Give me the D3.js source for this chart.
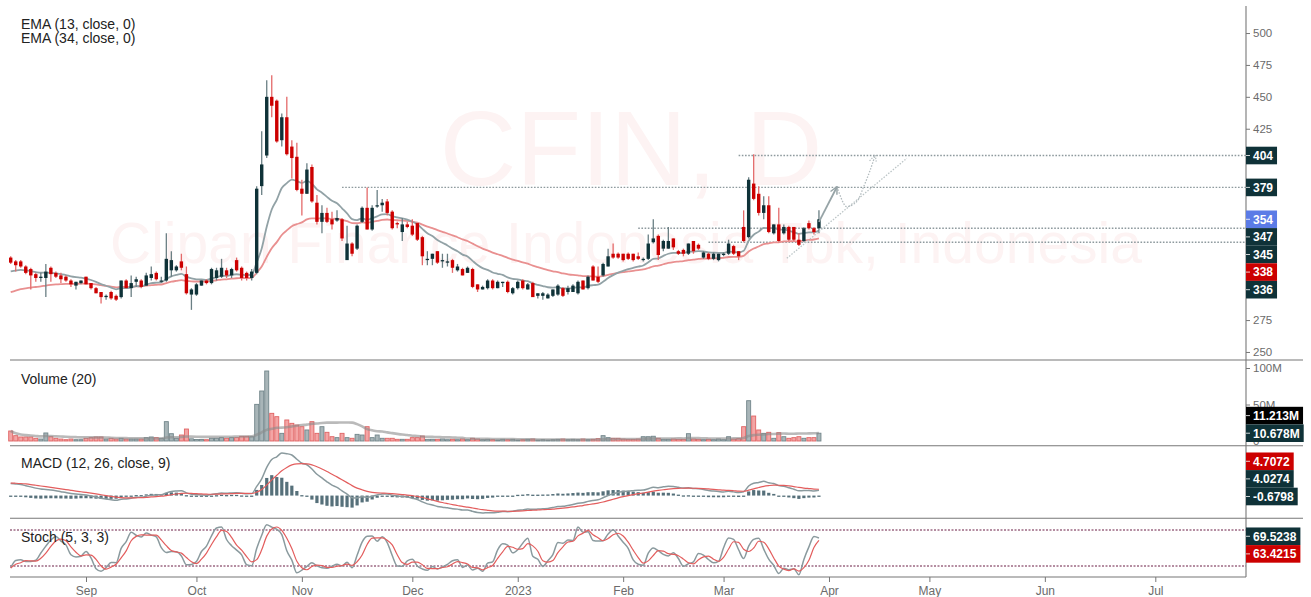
<!DOCTYPE html>
<html lang="en">
<head>
<meta charset="UTF-8">
<title>CFIN, D</title>
<style>
    body { margin: 0; background: #fff; }
    svg { display: block; font-family: "Liberation Sans", Arial, sans-serif; }
</style>
</head>
<body>
<svg id="chart" width="1311" height="597"></svg>
<script src="https://cdn.jsdelivr.net/npm/d3@7/dist/d3.min.js"></script>
<script>
// daily bars from 2022-08-10 to 2023-03-30 (IDX trading days)
const opens = [
    324,321,321,317,315,311,308,308,316,312,
    310,309,306,302,304,309,304,300,297,293,
    297,294,293,306,300,305,306,302,308,312,
    305,306,314,314,321,311,295,295,302,306,
    304,308,309,314,310,322,316,312,308,312,
    380,404,450,447,416,434,411,403,378,374,
    395,367,352,359,354,353,354,322,335,331,
    352,363,346,364,365,368,360,351,344,350,
    349,351,340,322,323,329,321,320,322,314,
    315,312,315,303,299,300,306,300,304,305,
    296,300,306,299,304,294,294,292,294,295,
    300,297,297,296,306,300,317,309,310,317,
    327,327,327,327,327,325,322,323,336,341,
    331,331,339,329,330,327,337,334,324,327,
    323,322,326,327,333,329,348,340,382,374,
    359,365,343,350,343,348,348,338,337,351,
    347,347];
const highs = [
    325,322,322,318,316,312,312,319,317,313,
    312,310,307,305,306,309,304,301,297,295,
    298,295,306,307,310,309,307,312,317,313,
    309,343,329,318,327,317,300,304,306,307,
    316,316,323,316,316,324,317,313,315,380,
    423,463,467,448,437,450,416,414,385,398,
    397,373,365,363,360,361,355,349,336,350,
    364,379,365,377,370,370,361,352,355,352,
    354,351,341,329,327,329,327,327,323,319,
    316,317,316,303,302,307,307,306,305,306,
    301,306,307,304,305,296,297,296,299,303,
    301,302,303,306,306,310,318,317,320,331,
    335,328,327,328,327,328,324,342,354,342,
    338,348,339,330,331,335,337,335,329,328,
    328,327,328,338,334,329,361,387,405,380,
    372,372,350,363,350,349,348,343,348,353,
    348,361];
const lows = [
    319,313,316,311,299,305,305,293,305,308,
    304,305,301,299,303,303,299,296,288,291,
    291,290,292,300,293,301,300,302,306,306,
    304,305,309,313,314,295,283,294,302,303,
    303,306,308,308,308,313,306,306,306,311,
    373,402,434,414,411,404,386,376,357,374,
    367,350,343,351,346,352,337,322,325,330,
    351,346,345,363,360,357,346,347,337,347,
    341,337,318,318,318,319,316,317,312,313,
    310,312,300,297,299,299,299,300,301,296,
    295,299,299,299,293,292,291,292,293,294,
    293,295,297,295,299,299,306,304,309,317,
    323,323,321,322,321,322,321,322,335,322,
    329,331,330,326,325,326,327,330,323,322,
    322,321,325,326,326,322,336,339,369,357,
    354,343,342,336,342,337,337,333,336,346,
    342,343];
const closes = [
    320,318,317,312,310,308,309,313,311,309,
    307,306,303,305,306,303,300,296,293,294,
    292,291,306,300,304,307,301,310,311,307,
    306,323,322,317,316,296,299,303,306,304,
    315,314,316,310,315,314,308,308,313,378,
    397,450,443,415,434,405,402,377,374,393,
    368,352,359,352,350,355,339,335,327,349,
    363,346,363,365,367,359,347,350,350,348,
    342,338,325,323,327,320,322,321,316,317,
    310,316,301,299,301,306,300,305,305,297,
    300,305,300,303,293,296,296,295,299,302,
    294,300,302,305,299,309,306,305,319,325,
    324,324,322,323,322,323,323,335,339,326,
    337,337,332,327,327,335,329,331,328,323,
    327,327,327,335,327,325,337,385,370,359,
    365,344,350,337,348,338,338,334,347,347,
    344,354];
// volume in millions of shares
const volumes = [
    13.7,7.3,5.5,5.5,5.5,3.7,2.7,11,5.9,3.7,
    2.7,1.8,2.7,1.8,1.8,3.7,4.6,5.5,5.5,2.7,
    3.7,2.7,3.7,2.7,2.7,2.7,2.7,4.6,5.5,4.6,
    3.7,26.5,10,3.7,8.2,16.4,3,2,2,1.8,
    3.7,3.7,4.6,3.7,4.6,4.6,6.4,6.4,5.9,50.2,
    68.5,95.9,37.9,33.3,10.5,28.8,24.2,21.9,19.6,15.1,
    26.5,10.5,19.6,11.9,5.9,4.6,10.5,4.6,3.7,9.1,
    8.2,19.6,4.6,8.2,3.7,3.7,3.7,2.3,2.3,2.3,
    4.6,4.6,6.8,2.3,2.3,2.3,2.7,1.8,2.3,1.8,
    2.7,1.8,3.7,2.7,1.8,2.3,1.8,1.4,2.3,1.8,
    2.3,1.4,1.8,2.3,2.7,1.4,1.8,1.4,1.8,2.3,
    2.7,1.8,2.3,1.8,2.7,1.8,2.3,3.2,7.3,4.6,
    3.7,3.7,2.7,2.3,2.3,2.7,5.9,5.9,6.5,3.7,
    2.3,2.3,2.7,2.3,2.3,10,2.7,2.3,1.8,2.3,
    1.8,2.7,1.8,5.9,2.7,3.2,19.6,55.2,34.2,15.1,
    10.5,11.9,3.7,11.4,5.9,3.7,4.6,5.9,3.7,4.6,
    4.6,10.678];

const holidays = ["2022-08-17", "2022-12-26", "2023-01-23", "2023-03-22", "2023-03-23"];
const monthStarts = ["2022-09-01", "2022-10-01", "2022-11-01", "2022-12-01", "2023-01-01", "2023-02-01",
    "2023-03-01", "2023-04-01", "2023-05-01", "2023-06-01", "2023-07-01"];
const monthLabels = ["Sep", "Oct", "Nov", "Dec", "2023", "Feb", "Mar", "Apr", "May", "Jun", "Jul"];
const priceTicks = [250, 275, 300, 325, 350, 375, 400, 425, 450, 475, 500];
const volumeTicks = [0, 50, 100];

// horizontal levels drawn on the chart
const levelPrices = [404, 379, 347, 336];
const levelStarts = ["2023-03-06", "2022-11-11", "2023-02-06", "2023-02-24"];

// indicator values just before the first bar
const emaSeeds = [312, 295.5];          // EMA13, EMA34
const macdSeeds = [312.5, 303.6, 9.3];  // EMA12, EMA26, signal

// projection sketch: [bar index, price]
const arrowLine = [[161, 352], [164.6, 379.5]];
const arrowPath = [[164.6, 379.5], [165.9, 366.5], [166.5, 363.9], [168.5, 367.8], [169.9, 379.5], [171.2, 392.5], [172.2, 404.4]];
const trendLine = [[154.6, 323.4], [178.5, 401.8]];

// last value tags, top to bottom
const priceTagValues = [404, 379, 354, 347, 345, 338, 336];
const priceTagKinds = ["level", "level", "last", "level", "ema13", "ema34", "level"];
const volTagTexts = ["11.213M", "10.678M"];
const volTagValues = [11.213, 10.678];
const macdTagTexts = ["4.7072", "4.0274", "-0.6798"];
const macdTagValues = [4.7072, 4.0274, -0.6798];
const stochTagTexts = ["69.5238", "63.4215"];
const stochTagValues = [69.5238, 63.4215];

// ---------- calendar ----------
const tradingDays = [];
for (let d = new Date(Date.UTC(2022, 7, 10)); d <= new Date(Date.UTC(2023, 6, 31)); d.setUTCDate(d.getUTCDate() + 1)) {
    const wd = d.getUTCDay();
    const iso = d.toISOString().slice(0, 10);
    if (wd === 0 || wd === 6 || holidays.indexOf(iso) >= 0) continue;
    tradingDays.push(iso);
}
function dayIndex(iso) {
    return tradingDays.findIndex(t => t >= iso);
}

// ---------- indicators ----------
function ema(values, period, seed) {
    const k = 2 / (period + 1);
    let prev = seed;
    return values.map(v => (prev = prev + k * (v - prev)));
}
function sma(values, n) {
    return values.map((_, i) => d3.mean(values.slice(Math.max(0, i - n + 1), i + 1)));
}
const ema13 = ema(closes, 13, emaSeeds[0]);
const ema34 = ema(closes, 34, emaSeeds[1]);
const ema12 = ema(closes, 12, macdSeeds[0]);
const ema26 = ema(closes, 26, macdSeeds[1]);
const macd = ema12.map((v, i) => v - ema26[i]);
const signal = ema(macd, 9, macdSeeds[2]);
const hist = macd.map((v, i) => v - signal[i]);
const volMa = sma(volumes, 20);
const rawK = closes.map((c, i) => {
    const lo = d3.min(lows.slice(Math.max(0, i - 4), i + 1));
    const hi = d3.max(highs.slice(Math.max(0, i - 4), i + 1));
    return hi === lo ? 50 : (c - lo) / (hi - lo) * 100;
});
const stochK = sma(rawK, 3);
const stochD = sma(stochK, 3);

// ---------- layout ----------
const svg = d3.select("#chart");
const plotL = 10, plotR = 1246;
const pane = {price: [6, 360], vol: [360, 445.7], macd: [445.7, 518.3], stoch: [518.3, 577]};
const TAG_H = 17.6;

const x = d3.scaleLinear().domain([0, 228]).range([10.7, 1155.3]);
const yPrice = d3.scaleLinear().domain([243.7, 521.2]).range([360, 6]);
const yVol = d3.scaleLinear().domain([0, 100]).range([441, 368]);
const macdExt = d3.extent(macd.concat(signal, hist));
const yMacd = d3.scaleLinear().domain(macdExt).range([513, 453]);
const yStoch = d3.scaleLinear().domain([0, 100]).range([578, 518]);

const UP = "#0f3238", DOWN = "#cc0000";
const bars = opens.map((o, i) => ({i: i, o: o, h: highs[i], l: lows[i], c: closes[i], v: volumes[i]}));

const defs = svg.append("defs");
Object.keys(pane).forEach(k => {
    defs.append("clipPath").attr("id", "clip-" + k)
        .append("rect").attr("x", 8).attr("y", pane[k][0])
        .attr("width", plotR - 8).attr("height", pane[k][1] - pane[k][0]);
});
defs.append("marker").attr("id", "arrowSolid").attr("viewBox", "0 0 10 10")
    .attr("refX", 9).attr("refY", 5).attr("markerWidth", 9).attr("markerHeight", 9)
    .attr("markerUnits", "userSpaceOnUse").attr("orient", "auto")
    .append("path").attr("d", "M1,1 L9,5 L1,9").attr("fill", "none")
    .attr("stroke", "#97a4a7").attr("stroke-width", 1.6);
defs.append("marker").attr("id", "arrowDot").attr("viewBox", "0 0 10 10")
    .attr("refX", 9).attr("refY", 5).attr("markerWidth", 9).attr("markerHeight", 9)
    .attr("markerUnits", "userSpaceOnUse").attr("orient", "auto")
    .append("path").attr("d", "M1,1 L9,5 L1,9").attr("fill", "none")
    .attr("stroke", "#b3bcbf").attr("stroke-width", 1.3).attr("stroke-dasharray", "1.5,1.5");

svg.append("rect").attr("width", 1311).attr("height", 597).attr("fill", "#fff");

// ---------- price pane ----------
const gp = svg.append("g").attr("clip-path", "url(#clip-price)");

gp.append("text").attr("x", 631).attr("y", 185).attr("text-anchor", "middle")
    .attr("font-size", 106).attr("fill", "#fdf3f3").text("CFIN, D");
gp.append("text").attr("x", 626).attr("y", 263).attr("text-anchor", "middle")
    .attr("font-size", 57).attr("fill", "#fdf3f3").text("Clipan Finance Indonesia Tbk, Indonesia");

gp.selectAll("line.level").data(levelPrices).enter().append("line")
    .attr("class", "level")
    .attr("x1", (d, i) => x(dayIndex(levelStarts[i]))).attr("x2", plotR)
    .attr("y1", d => yPrice(d)).attr("y2", d => yPrice(d))
    .attr("stroke", "#8e9a9e").attr("stroke-width", 1.4).attr("stroke-dasharray", "1.6,1.6");

const priceLine = vals => d3.line().x((d, i) => x(i)).y(d => yPrice(d)).curve(d3.curveMonotoneX)(vals);
gp.append("path").attr("d", priceLine(ema34)).attr("fill", "none")
    .attr("stroke", "#e99090").attr("stroke-width", 1.8);
gp.append("path").attr("d", priceLine(ema13)).attr("fill", "none")
    .attr("stroke", "#92a2a6").attr("stroke-width", 1.8);

const candle = gp.selectAll("g.candle").data(bars).enter().append("g").attr("class", "candle");
candle.append("line")
    .attr("x1", d => x(d.i)).attr("x2", d => x(d.i))
    .attr("y1", d => yPrice(d.h)).attr("y2", d => yPrice(d.l))
    .attr("stroke", d => d.c >= d.o ? "#6a7f84" : "#e46a6a").attr("stroke-width", 1.3);
candle.append("rect")
    .attr("x", d => x(d.i) - 1.7).attr("width", 3.4)
    .attr("y", d => yPrice(Math.max(d.o, d.c)))
    .attr("height", d => Math.max(1.2, Math.abs(yPrice(d.o) - yPrice(d.c))))
    .attr("fill", d => d.c >= d.o ? UP : DOWN);

const drawLine = d3.line().x(d => x(d[0])).y(d => yPrice(d[1]));
gp.append("path").attr("d", drawLine(trendLine)).attr("fill", "none")
    .attr("stroke", "#bcc5c7").attr("stroke-width", 1.3).attr("stroke-dasharray", "1.5,1.5");
gp.append("path").attr("d", d3.line().x(d => x(d[0])).y(d => yPrice(d[1])).curve(d3.curveCatmullRom)(arrowPath))
    .attr("fill", "none").attr("stroke", "#b3bcbf").attr("stroke-width", 1.3)
    .attr("stroke-dasharray", "1.5,1.5").attr("marker-end", "url(#arrowDot)");
gp.append("path").attr("d", drawLine(arrowLine)).attr("fill", "none")
    .attr("stroke", "#97a4a7").attr("stroke-width", 1.8).attr("marker-end", "url(#arrowSolid)");

svg.append("text").attr("x", 21).attr("y", 29).attr("font-size", 14).attr("fill", "#222").text("EMA (13, close, 0)");
svg.append("text").attr("x", 21).attr("y", 43).attr("font-size", 14).attr("fill", "#222").text("EMA (34, close, 0)");

// ---------- volume pane ----------
const gv = svg.append("g").attr("clip-path", "url(#clip-vol)");
gv.selectAll("rect").data(bars).enter().append("rect")
    .attr("x", d => x(d.i) - 2).attr("width", 4)
    .attr("y", d => yVol(d.v)).attr("height", d => yVol(0) - yVol(d.v))
    .attr("fill", d => d.c >= d.o ? "#a8b5b8" : "#f3a5a5")
    .attr("stroke", d => d.c >= d.o ? "#71858a" : "#e06363").attr("stroke-width", 0.9);
gv.append("path").attr("d", d3.line().x((d, i) => x(i)).y(d => yVol(d)).curve(d3.curveMonotoneX)(volMa))
    .attr("fill", "none").attr("stroke", "#8c8c8c").attr("stroke-opacity", 0.6).attr("stroke-width", 2.6);
svg.append("text").attr("x", 21).attr("y", 384).attr("font-size", 14).attr("fill", "#222").text("Volume (20)");

// ---------- MACD pane ----------
const gm = svg.append("g").attr("clip-path", "url(#clip-macd)");
gm.selectAll("rect").data(hist).enter().append("rect")
    .attr("x", (d, i) => x(i) - 1.6).attr("width", 3.2)
    .attr("y", d => Math.min(yMacd(d), yMacd(0)))
    .attr("height", d => Math.max(1.3, Math.abs(yMacd(d) - yMacd(0))))
    .attr("fill", "#56707a");
const macdLine = vals => d3.line().x((d, i) => x(i)).y(d => yMacd(d)).curve(d3.curveMonotoneX)(vals);
gm.append("path").attr("d", macdLine(macd)).attr("fill", "none").attr("stroke", "#8a9a9e").attr("stroke-width", 1.5);
gm.append("path").attr("d", macdLine(signal)).attr("fill", "none").attr("stroke", "#e35d5d").attr("stroke-width", 1.2);
svg.append("text").attr("x", 21).attr("y", 468).attr("font-size", 14).attr("fill", "#222").text("MACD (12, 26, close, 9)");

// ---------- Stochastic pane ----------
const gs = svg.append("g").attr("clip-path", "url(#clip-stoch)");
[80, 20].forEach(v => {
    gs.append("line").attr("x1", plotL).attr("x2", plotR).attr("y1", yStoch(v)).attr("y2", yStoch(v))
        .attr("stroke", "#6b1d44").attr("stroke-width", 1).attr("stroke-dasharray", "2,1.5");
});
const stochLine = vals => d3.line().x((d, i) => x(i)).y(d => yStoch(d)).curve(d3.curveMonotoneX)(vals);
gs.append("path").attr("d", stochLine(stochK)).attr("fill", "none").attr("stroke", "#8a9a9e").attr("stroke-width", 1.5);
gs.append("path").attr("d", stochLine(stochD)).attr("fill", "none").attr("stroke", "#e35d5d").attr("stroke-width", 1.2);
svg.append("text").attr("x", 21).attr("y", 542).attr("font-size", 14).attr("fill", "#222").text("Stoch (5, 3, 3)");

// ---------- frame and axes ----------
[pane.vol[0], pane.macd[0], pane.stoch[0]].forEach(y => {
    svg.append("line").attr("x1", plotL).attr("x2", 1303).attr("y1", y).attr("y2", y)
        .attr("stroke", "#777").attr("stroke-width", 1.1);
});
svg.append("line").attr("x1", plotL).attr("x2", plotR).attr("y1", 577).attr("y2", 577)
    .attr("stroke", "#777").attr("stroke-width", 1.1);
svg.append("line").attr("x1", plotR).attr("x2", plotR).attr("y1", 6).attr("y2", 577)
    .attr("stroke", "#777").attr("stroke-width", 1.1);

// tag positions: the main tag stays on its value, the others stack away from it
function stackTags(values, mainIdx, scale) {
    const ys = values.map(v => scale(v));
    for (let i = mainIdx - 1; i >= 0; i--) ys[i] = Math.min(ys[i], ys[i + 1] - TAG_H);
    for (let i = mainIdx + 1; i < ys.length; i++) ys[i] = Math.max(ys[i], ys[i - 1] + TAG_H);
    return ys;
}
const priceTagYs = stackTags(priceTagValues, 2, yPrice);
const volTagYs = stackTags(volTagValues, 1, yVol);
const macdTagYs = stackTags(macdTagValues, 2, yMacd);
const stochTagYs = stackTags(stochTagValues, 0, yStoch);

function styleAxis(g, size) {
    g.select(".domain").remove();
    g.selectAll(".tick line").attr("stroke", "#777");
    g.selectAll(".tick text").attr("fill", "#6b6b6b").attr("font-size", size)
        .attr("font-family", "'Liberation Sans', Arial, sans-serif");
}
// price ticks that sit under a tag are hidden by it
const freePriceTicks = priceTicks.filter(v => priceTagYs.every(y => Math.abs(yPrice(v) - y) > TAG_H / 2 + 2));
svg.append("g").attr("transform", "translate(" + plotR + ",0)")
    .call(d3.axisRight(yPrice).tickValues(freePriceTicks).tickSize(4).tickPadding(3))
    .call(g => styleAxis(g, 11.5));
svg.append("g").attr("transform", "translate(" + plotR + ",0)")
    .call(d3.axisRight(yVol).tickValues(volumeTicks).tickSize(4).tickPadding(3)
        .tickFormat(d => d === 0 ? "0" : d + "M"))
    .call(g => styleAxis(g, 11.5));

const monthIdx = monthStarts.map(dayIndex);
svg.append("g").attr("transform", "translate(0,577)")
    .call(d3.axisBottom(x).tickValues(monthIdx).tickSize(5).tickPadding(4)
        .tickFormat((d, i) => monthLabels[i]))
    .call(g => styleAxis(g, 12));

// ---------- value tags on the right ----------
const tagColor = {level: UP, last: "#5b7be6", ema13: UP, ema34: DOWN, main: UP, red: DOWN, black: "#000"};
function drawTags(texts, ys, kinds) {
    const g = svg.append("g");
    ys.forEach((y, i) => {
        const t = g.append("g");
        const rect = t.append("rect").attr("x", plotR).attr("y", y - TAG_H / 2).attr("height", TAG_H)
            .attr("fill", tagColor[kinds[i]]);
        t.append("line").attr("x1", plotR).attr("x2", plotR + 4).attr("y1", y).attr("y2", y)
            .attr("stroke", "#fff").attr("stroke-opacity", 0.8);
        const txt = t.append("text").attr("x", plotR + 7).attr("y", y + 4.3)
            .attr("font-size", 12).attr("font-weight", "bold").attr("fill", "#fff").text(texts[i]);
        rect.attr("width", txt.node().getComputedTextLength() + 11);
    });
}
drawTags(priceTagValues.map(String), priceTagYs, priceTagKinds);
drawTags(volTagTexts, volTagYs, ["black", "main"]);
drawTags(macdTagTexts, macdTagYs, ["red", "main", "main"]);
drawTags(stochTagTexts, stochTagYs, ["main", "red"]);
</script>
</body>
</html>
